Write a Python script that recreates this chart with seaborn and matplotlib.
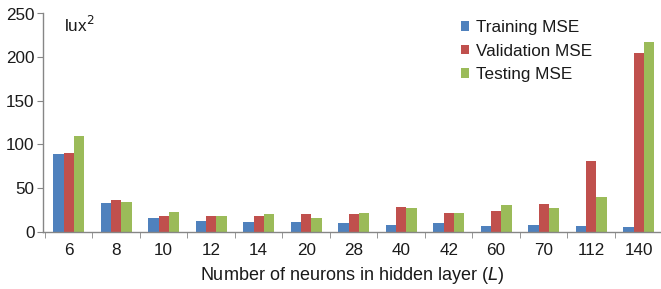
import matplotlib
matplotlib.use("Agg")
import matplotlib.pyplot as plt
import seaborn as sns
import pandas as pd
import numpy as np

neurons = ["6", "8", "10", "12", "14", "20", "28", "40", "42", "60", "70", "112", "140"]
training = [88.7, 32.5, 15.7, 12.2, 11.5, 11.5, 10.0, 7.6, 10.0, 6.9, 7.6, 6.9, 5.4]
validation = [89.8, 36.3, 18.0, 18.0, 18.0, 19.9, 20.3, 28.3, 21.8, 24.0, 32.1, 81.4, 205.0]
testing = [110.0, 34.4, 22.6, 18.0, 20.3, 15.7, 21.8, 27.1, 21.8, 30.6, 27.1, 40.1, 217.5]
series = ["Training MSE", "Validation MSE", "Testing MSE"]
colors = ["#4F81BD", "#C0504D", "#9BBB59"]

rows = []
for name, vals in zip(series, [training, validation, testing]):
    for n, v in zip(neurons, vals):
        rows.append({"L": n, "MSE": v, "Series": name})
df = pd.DataFrame(rows)

sns.set_style("white")
plt.rcParams["font.family"] = ["Liberation Sans", "DejaVu Sans"]
FS = 12.3
TXT = "#1a1a1a"

fig = plt.figure(figsize=(6.61, 2.89), dpi=100)
ax = fig.add_axes([43 / 661, 1 - 231.7 / 289, 1 - 43 / 661, (231.7 - 13.5) / 289])

sns.barplot(data=df, x="L", y="MSE", hue="Series", order=neurons, hue_order=series,
            palette=colors, width=0.65, gap=0, saturation=1, ax=ax, edgecolor="none",
            linewidth=0)

ax.set_yticks([0, 50, 100, 150, 200, 250])
for s in ["top", "right"]:
    ax.spines[s].set_visible(False)
for s in ["left", "bottom"]:
    ax.spines[s].set_color("#868686")
    ax.spines[s].set_linewidth(1.0)

ax.tick_params(axis="y", which="major", left=True, length=4, color="#868686",
               labelsize=FS, labelcolor=TXT, pad=2)
ax.tick_params(axis="x", which="major", bottom=False, labelsize=FS,
               labelcolor=TXT, pad=4.5)
ax.set_xticks(np.arange(-0.5, 13.5, 1.0), minor=True)
ax.tick_params(axis="x", which="minor", bottom=True, length=4, color="#868686")

ax.set_xlim(-0.54, 12.47)
ax.set_ylim(0, 250)

ax.set_ylabel("")
ax.set_xlabel("Number of neurons in hidden layer ($\\it{L}$)", fontsize=13,
              color=TXT, labelpad=5)

ax.text(0.034, 0.995, "lux$^2$", transform=ax.transAxes, fontsize=FS,
        color=TXT, va="top", ha="left")

handles, labels = ax.get_legend_handles_labels()
leg = ax.legend(handles, labels, loc="upper left", bbox_to_anchor=(0.665, 1.0),
                frameon=False, fontsize=FS, handlelength=0.5, handleheight=0.5,
                handletextpad=0.4, labelspacing=0.48, borderaxespad=0)
for t in leg.get_texts():
    t.set_color(TXT)

fig.savefig("out.png", dpi=100)
